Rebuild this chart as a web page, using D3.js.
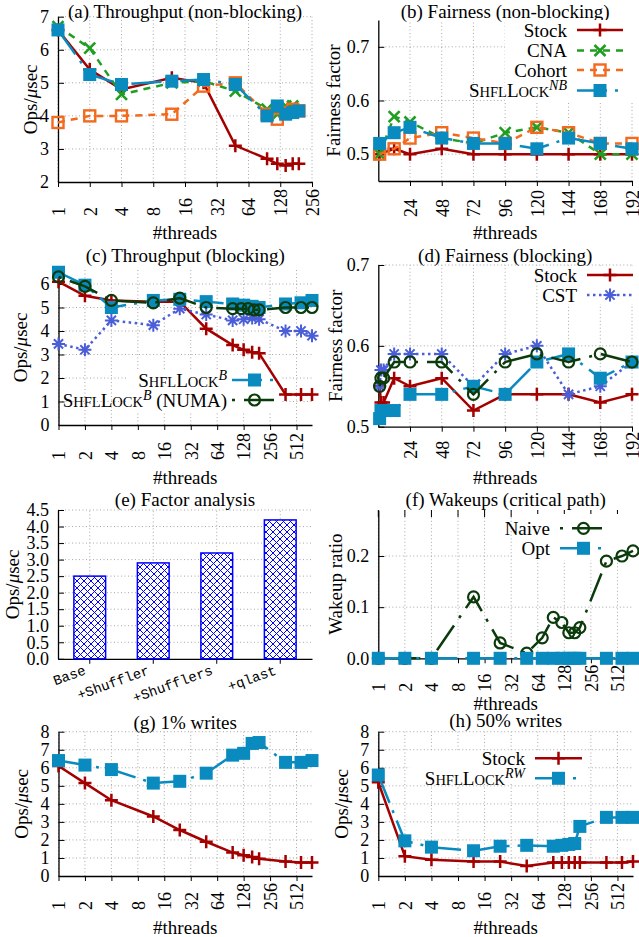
<!DOCTYPE html>
<html>
<head>
<meta charset="utf-8">
<script src="https://cdn.jsdelivr.net/npm/d3@7"></script>
<style>
  body { margin: 0; background: #fff; }
</style>
</head>
<body>
<script>
// ---- data ----

// (a) throughput, non-blocking
var thrA = [1, 2, 4, 12, 24, 48, 96, 120, 144, 168, 192];
var stockA = [6.6, 5.4, 4.8, 5.15, 5.0, 3.1, 2.7, 2.55, 2.5, 2.55, 2.55];
var cnaA = [6.7, 6.05, 4.65, 5.0, 5.05, 4.75, 4.2, 4.05, 4.3, 4.3, 4.15];
var cohortA = [3.8, 4.0, 4.0, 4.05, 4.9, 5.0, 4.05, 3.9, 4.1, 4.2, 4.15];
var shflA = [6.6, 5.25, 4.95, 5.05, 5.1, 4.95, 4.0, 4.3, 4.05, 4.1, 4.15];

// (b) fairness, non-blocking
var thrB = [1, 12, 24, 48, 72, 96, 120, 144, 168, 192];
var stockB = [0.50, 0.51, 0.50, 0.51, 0.50, 0.50, 0.50, 0.50, 0.50, 0.50];
var cnaB = [0.50, 0.57, 0.56, 0.53, 0.52, 0.54, 0.55, 0.54, 0.50, 0.50];
var cohortB = [0.50, 0.51, 0.53, 0.54, 0.53, 0.52, 0.55, 0.54, 0.52, 0.52];
var shflB = [0.52, 0.54, 0.55, 0.53, 0.52, 0.52, 0.51, 0.53, 0.52, 0.51];

// (c) throughput, blocking
var thrC = [1, 2, 4, 12, 24, 48, 96, 128, 160, 192, 384, 576, 768];
var stockC = [6.1, 5.5, 5.3, 5.25, 5.25, 4.1, 3.4, 3.2, 3.1, 3.05, 1.3, 1.3, 1.3];
var cstC = [3.45, 3.2, 4.45, 4.25, 4.95, 4.7, 4.45, 4.5, 4.55, 4.5, 4.0, 4.0, 3.8];
var shflC = [6.5, 5.95, 5.0, 5.3, 5.35, 5.25, 5.15, 5.1, 5.05, 5.0, 5.15, 5.2, 5.3];
var thrCn = [1, 2, 4, 12, 24, 48, 96, 120, 144, 168, 192, 384, 576, 768];
var numaC = [6.3, 5.9, 5.3, 5.2, 5.4, 5.0, 4.95, 4.95, 4.95, 4.9, 4.9, 5.0, 5.0, 5.0];

// (d) fairness, blocking
var thrD = [1, 2, 4, 12, 24, 48, 72, 96, 120, 144, 168, 192];
var stockD = [0.55, 0.53, 0.53, 0.56, 0.55, 0.56, 0.52, 0.54, 0.54, 0.54, 0.53, 0.54];
var cstD = [0.55, 0.57, 0.57, 0.59, 0.59, 0.59, 0.55, 0.59, 0.60, 0.54, 0.55, 0.58];
var shflD = [0.51, 0.52, 0.52, 0.52, 0.54, 0.54, 0.55, 0.54, 0.58, 0.59, 0.56, 0.58];
var numaD = [0.55, 0.56, 0.56, 0.58, 0.58, 0.58, 0.54, 0.58, 0.59, 0.58, 0.59, 0.58];

// (e) factor analysis
var factors = ["Base", "+Shuffler", "+Shufflers", "+qlast"];
var factorVals = [2.5, 2.9, 3.2, 4.2];

// (f) wakeups on the critical path
var thrF = [1, 2, 4, 12, 24, 48, 72, 96, 120, 144, 168, 192, 384, 576, 768];
var naiveF = [0, 0, 0, 0.12, 0.03, 0.01, 0.04, 0.08, 0.07, 0.05, 0.05, 0.06, 0.19, 0.20, 0.21];
var optF = [0, 0, 0, 0, 0, 0, 0, 0, 0, 0, 0, 0, 0, 0, 0];

// (g) 1% writes
var thrG = [1, 2, 4, 12, 24, 48, 96, 128, 160, 192, 384, 576, 768];
var stockG = [6.1, 5.15, 4.2, 3.3, 2.55, 1.9, 1.3, 1.15, 1.05, 0.95, 0.8, 0.75, 0.75];
var shflG = [6.4, 6.15, 5.9, 5.15, 5.25, 5.7, 6.7, 6.8, 7.35, 7.4, 6.3, 6.3, 6.4];

// (h) 50% writes
var thrH = [1, 2, 4, 12, 24, 48, 96, 120, 144, 168, 192, 384, 576, 768];
var stockH = [5.2, 1.1, 0.9, 0.8, 0.8, 0.55, 0.75, 0.75, 0.75, 0.75, 0.75, 0.75, 0.75, 0.8];
var shflH = [5.6, 1.95, 1.6, 1.4, 1.65, 1.7, 1.65, 1.7, 1.75, 1.8, 2.75, 3.25, 3.25, 3.25];

// tick values
var logTicks256 = [1, 2, 4, 8, 16, 32, 64, 128, 256];
var logTicks512 = [1, 2, 4, 8, 16, 32, 64, 128, 256, 512];
var linTicks = [24, 48, 72, 96, 120, 144, 168, 192];
var ticksA = [2, 3, 4, 5, 6, 7];
var ticksFair = [0.5, 0.6, 0.7];
var ticksC = [0, 1, 2, 3, 4, 5, 6];
var ticksE = [0, 0.5, 1, 1.5, 2, 2.5, 3, 3.5, 4, 4.5];
var ticksF = [0, 0.1, 0.2];
var ticksRW = [0, 1, 2, 3, 4, 5, 6, 7, 8];

// ---- drawing ----
var W = 639, H = 937;
var col = {
  stock: "#a40000", cna: "#1f9e1f", cohort: "#f3691d", shfl: "#0a8bbf",
  numa: "#0b3a0b", cst: "#4a5ed8", bar: "#0000ff", grid: "#a8a8a8"
};
var dashBlue = "30,8,3,8";
var dashGreen = "3,9,30,9";

var svg = d3.select("body").append("svg")
  .attr("width", W).attr("height", H)
  .style("font-family", "'Liberation Serif', 'Times New Roman', serif")
  .style("font-size", "19px");

var defs = svg.append("defs");
var pat = defs.append("pattern").attr("id", "xhatch")
  .attr("patternUnits", "userSpaceOnUse").attr("width", 7).attr("height", 7);
pat.append("rect").attr("width", 7).attr("height", 7).attr("fill", "#fff");
pat.append("path").attr("d", "M0,0L7,7M7,0L0,7M-1,6L1,8M6,-1L8,1M-1,1L1,-1M6,8L8,6")
  .attr("stroke", col.bar).attr("stroke-width", 1);

function opsLabel(t) {
  t.append("tspan").text("Ops/");
  t.append("tspan").attr("font-style", "italic").text("\u03bc");
  t.append("tspan").text("sec");
}

function shflLabel(t, sup, tail) {
  t.append("tspan").text("S");
  t.append("tspan").attr("font-size", 14.5).text("HFL");
  t.append("tspan").text("L");
  t.append("tspan").attr("font-size", 14.5).text("OCK");
  t.append("tspan").attr("font-size", 14).attr("font-style", "italic").attr("dy", -7).text(sup);
  if (tail) t.append("tspan").attr("dy", 7).text(tail);
}

function panel(o) {
  var g = svg.append("g");
  var x = o.x;
  var y = d3.scaleLinear().domain(o.yd).range([o.b, o.t]);
  var xp = o.band ? function (d) { return x(d) + x.bandwidth() / 2; } : function (d) { return x(d); };

  // dotted grid
  g.append("g").selectAll("line").data(o.xt).join("line")
    .attr("x1", xp).attr("x2", xp).attr("y1", o.b).attr("y2", o.t)
    .attr("stroke", col.grid).attr("stroke-dasharray", "1,2.5");
  g.append("g").selectAll("line").data(o.yt.filter(function (v) { return v > o.yd[0]; })).join("line")
    .attr("x1", o.l).attr("x2", o.r).attr("y1", y).attr("y2", y)
    .attr("stroke", col.grid).attr("stroke-dasharray", "1,2.5");

  // axes
  var ya = g.append("g").attr("transform", "translate(" + o.l + ",0)")
    .call(d3.axisLeft(y).tickValues(o.yt).tickSize(-6).tickSizeOuter(0).tickPadding(9).tickFormat(o.yf));
  ya.attr("font-family", null).attr("font-size", 18);
  ya.select(".domain").attr("stroke-width", 1.3);

  var xa = g.append("g").attr("transform", "translate(0," + o.b + ")")
    .call(d3.axisBottom(x).tickValues(o.xt).tickSize(5).tickSizeOuter(0)
      .tickFormat(o.band ? function () { return ""; } : d3.format("d")));
  xa.attr("font-family", null).attr("font-size", 18);
  xa.select(".domain").attr("stroke-width", 1.3);
  if (!o.band) {
    xa.selectAll(".tick text")
      .attr("x", 0).attr("y", 0).attr("dy", "0.35em")
      .attr("text-anchor", "start")
      .attr("transform", "translate(0," + o.lblOff + ") rotate(-90)");
    g.append("text").attr("x", (o.l + o.r) / 2).attr("y", o.xly).attr("dy", "0.35em")
      .attr("text-anchor", "middle").text("#threads");
  }

  // title
  g.append("text").attr("x", (o.l + o.r) / 2).attr("y", o.ty)
    .attr("text-anchor", "middle").text(o.title);

  // y label
  var yl = g.append("text")
    .attr("transform", "translate(" + o.ylx + "," + ((o.t + o.b) / 2) + ") rotate(-90)")
    .attr("text-anchor", "middle").attr("dy", "0.35em");
  if (o.ylab === "ops") opsLabel(yl); else yl.text(o.ylab);

  return { g: g, x: x, y: y, o: o, xp: xp };
}

function mark(g, type, cx, cy, c) {
  if (type === "plus") {
    g.append("path").attr("d", "M" + (cx - 6.5) + "," + cy + "h13M" + cx + "," + (cy - 6.5) + "v13")
      .attr("stroke", c).attr("stroke-width", 2.5).attr("fill", "none");
  } else if (type === "cross") {
    g.append("path").attr("d", "M" + (cx - 5.5) + "," + (cy - 5.5) + "l11,11M" + (cx - 5.5) + "," + (cy + 5.5) + "l11,-11")
      .attr("stroke", c).attr("stroke-width", 2.6).attr("fill", "none");
  } else if (type === "osquare") {
    g.append("rect").attr("x", cx - 5.5).attr("y", cy - 5.5).attr("width", 11).attr("height", 11)
      .attr("stroke", c).attr("stroke-width", 2.4).attr("fill", "none");
  } else if (type === "fsquare") {
    g.append("rect").attr("x", cx - 6.5).attr("y", cy - 6.5).attr("width", 13).attr("height", 13)
      .attr("fill", c);
  } else if (type === "circle") {
    g.append("circle").attr("cx", cx).attr("cy", cy).attr("r", 5.5)
      .attr("stroke", c).attr("stroke-width", 2.2).attr("fill", "none");
  } else if (type === "star") {
    g.append("path").attr("d", "M" + (cx - 6.5) + "," + cy + "h13M" + cx + "," + (cy - 6.5) + "v13M" +
      (cx - 4.6) + "," + (cy - 4.6) + "l9.2,9.2M" + (cx - 4.6) + "," + (cy + 4.6) + "l9.2,-9.2")
      .attr("stroke", c).attr("stroke-width", 2).attr("fill", "none");
  }
}

function series(p, xs, ys, c, dash, type) {
  var pts = d3.zip(xs, ys);
  var line = d3.line().x(function (d) { return p.x(d[0]); }).y(function (d) { return p.y(d[1]); });
  p.g.append("path").datum(pts).attr("d", line)
    .attr("fill", "none").attr("stroke", c).attr("stroke-width", 2.5)
    .attr("stroke-dasharray", dash);
  pts.forEach(function (d) { mark(p.g, type, p.x(d[0]), p.y(d[1]), c); });
}

function keyBox(p, x, y, w, h) {
  p.g.append("rect").attr("x", x).attr("y", y).attr("width", w).attr("height", h).attr("fill", "#fff");
}

function key(p, tx, sx0, sx1, rows) {
  rows.forEach(function (r) {
    var t = p.g.append("text").attr("x", tx).attr("y", r.y).attr("dy", "0.35em").attr("text-anchor", "end");
    if (r.sup) shflLabel(t, r.sup, r.tail); else t.text(r.label);
    p.g.append("line").attr("x1", sx0).attr("x2", sx1).attr("y1", r.y).attr("y2", r.y)
      .attr("stroke", r.c).attr("stroke-width", 2.5).attr("stroke-dasharray", r.dash);
    mark(p.g, r.m, (sx0 + sx1) / 2, r.y, r.c);
  });
}

// (a)
var pa = panel({
  x: d3.scaleLog().base(2).domain([1, 256]).range([58, 312]),
  l: 58, r: 312, t: 16.7, b: 182, yd: [2, 7], yt: ticksA, yf: d3.format("d"),
  xt: logTicks256, lblOff: 34, xly: 232, title: "(a) Throughput (non-blocking)", ty: 18,
  ylab: "ops", ylx: 30
});
series(pa, thrA, stockA, col.stock, null, "plus");
series(pa, thrA, cnaA, col.cna, "7,6", "cross");
series(pa, thrA, cohortA, col.cohort, "7,6", "osquare");
series(pa, thrA, shflA, col.shfl, dashBlue, "fsquare");

// (b)
var pb = panel({
  x: d3.scaleLinear().domain([0, 192]).range([378.3, 632]),
  l: 378.3, r: 632, t: 20, b: 181, yd: [0.45, 0.75], yt: ticksFair, yf: d3.format(".1f"),
  xt: linTicks, lblOff: 36, xly: 232, title: "(b) Fairness (non-blocking)", ty: 18,
  ylab: "Fairness factor", ylx: 333
});
keyBox(pb, 505, 20, 128, 82);
series(pb, thrB, stockB, col.stock, null, "plus");
series(pb, thrB, cnaB, col.cna, "7,6", "cross");
series(pb, thrB, cohortB, col.cohort, "7,6", "osquare");
series(pb, thrB, shflB, col.shfl, dashBlue, "fsquare");
key(pb, 567, 577, 623, [
  { label: "Stock", y: 30, c: col.stock, dash: null, m: "plus" },
  { label: "CNA", y: 50.5, c: col.cna, dash: "7,6", m: "cross" },
  { label: "Cohort", y: 70, c: col.cohort, dash: "7,6", m: "osquare" },
  { sup: "NB", y: 90.5, c: col.shfl, dash: dashBlue, m: "fsquare" }
]);

// (c)
var pc = panel({
  x: d3.scaleLog().base(2).domain([1, 768]).range([58.5, 312]),
  l: 58.5, r: 312, t: 269.9, b: 425, yd: [0, 6.6], yt: ticksC, yf: d3.format("d"),
  xt: logTicks512, lblOff: 35, xly: 477, title: "(c) Throughput (blocking)", ty: 262,
  ylab: "ops", ylx: 20
});
keyBox(pc, 127, 369, 155, 42);
series(pc, thrC, stockC, col.stock, null, "plus");
series(pc, thrC, cstC, col.cst, "2.5,3.5", "star");
series(pc, thrC, shflC, col.shfl, dashBlue, "fsquare");
series(pc, thrCn, numaC, col.numa, dashGreen, "circle");
key(pc, 227, 232, 277, [
  { sup: "B", y: 380, c: col.shfl, dash: dashBlue, m: "fsquare" },
  { sup: "B", tail: " (NUMA)", y: 400, c: col.numa, dash: dashGreen, m: "circle" }
]);

// (d)
var pd = panel({
  x: d3.scaleLinear().domain([0, 192]).range([378.3, 632]),
  l: 378.3, r: 632, t: 265, b: 426.7, yd: [0.5, 0.7], yt: ticksFair, yf: d3.format(".1f"),
  xt: linTicks, lblOff: 32, xly: 477, title: "(d) Fairness (blocking)", ty: 262,
  ylab: "Fairness factor", ylx: 335
});
keyBox(pd, 538, 266, 95, 38);
series(pd, thrD, stockD, col.stock, null, "plus");
series(pd, thrD, cstD, col.cst, "2.5,3.5", "star");
series(pd, thrD, shflD, col.shfl, dashBlue, "fsquare");
series(pd, thrD, numaD, col.numa, dashGreen, "circle");
key(pd, 577, 587, 633, [
  { label: "Stock", y: 275, c: col.stock, dash: null, m: "plus" },
  { label: "CST", y: 295, c: col.cst, dash: "2.5,3.5", m: "star" }
]);

// (e)
var pe = panel({
  x: d3.scaleBand().domain(factors).range([58, 312]).paddingInner(0.5).paddingOuter(0.25),
  band: true, l: 58, r: 312, t: 510, b: 658.8, yd: [0, 4.5], yt: ticksE, yf: d3.format(".1f"),
  xt: factors, title: "(e) Factor analysis", ty: 506, ylab: "ops", ylx: 12
});
pe.g.selectAll(".bar").data(d3.zip(factors, factorVals)).join("rect")
  .attr("x", function (d) { return pe.x(d[0]); })
  .attr("width", pe.x.bandwidth())
  .attr("y", function (d) { return pe.y(d[1]); })
  .attr("height", function (d) { return pe.y(0) - pe.y(d[1]); })
  .attr("fill", "url(#xhatch)").attr("stroke", col.bar).attr("stroke-width", 1.5);
pe.g.selectAll(".cat").data(factors).join("text")
  .attr("transform", function (d) { return "translate(" + (pe.xp(d) - 3) + ",674) rotate(-20)"; })
  .attr("text-anchor", "end")
  .style("font-family", "'Liberation Mono', 'DejaVu Sans Mono', monospace")
  .style("font-size", "14px")
  .text(function (d) { return d; });

// (f)
var pf = panel({
  x: d3.scaleLog().base(2).domain([1, 768]).range([378.3, 633]),
  l: 378.3, r: 633, t: 510, b: 658.3, yd: [0, 0.29], yt: ticksF, yf: d3.format(".1f"),
  xt: logTicks512, lblOff: 33.5, xly: 703, title: "(f) Wakeups (critical path)", ty: 506,
  ylab: "Wakeup ratio", ylx: 335
});
pf.g.append("g").selectAll("line").data(logTicks512).join("line")
  .attr("x1", pf.xp).attr("x2", pf.xp).attr("y1", 510).attr("y2", 517)
  .attr("stroke", "#000").attr("stroke-width", 1);
keyBox(pf, 512, 514, 121, 46);
series(pf, thrF, naiveF, col.numa, dashGreen, "circle");
series(pf, thrF, optF, col.shfl, dashBlue, "fsquare");
key(pf, 550, 560, 607, [
  { label: "Naive", y: 528.3, c: col.numa, dash: dashGreen, m: "circle" },
  { label: "Opt", y: 548.3, c: col.shfl, dash: dashBlue, m: "fsquare" }
]);

// (g)
var pg = panel({
  x: d3.scaleLog().base(2).domain([1, 768]).range([58.5, 312]),
  l: 58.5, r: 312, t: 731.7, b: 876, yd: [0, 8], yt: ticksRW, yf: d3.format("d"),
  xt: logTicks512, lblOff: 34, xly: 927, title: "(g) 1% writes", ty: 729,
  ylab: "ops", ylx: 21.7
});
series(pg, thrG, stockG, col.stock, null, "plus");
series(pg, thrG, shflG, col.shfl, dashBlue, "fsquare");

// (h)
var ph = panel({
  x: d3.scaleLog().base(2).domain([1, 768]).range([378.3, 633]),
  l: 378.3, r: 633, t: 731.7, b: 876, yd: [0, 8], yt: ticksRW, yf: d3.format("d"),
  xt: logTicks512, lblOff: 34, xly: 927, title: "(h) 50% writes", ty: 727,
  ylab: "ops", ylx: 341.7
});
keyBox(ph, 410, 752, 176, 32);
series(ph, thrH, stockH, col.stock, null, "plus");
series(ph, thrH, shflH, col.shfl, dashBlue, "fsquare");
key(ph, 525, 535, 582, [
  { label: "Stock", y: 758.3, c: col.stock, dash: null, m: "plus" },
  { sup: "RW", y: 778.3, c: col.shfl, dash: dashBlue, m: "fsquare" }
]);
</script>
</body>
</html>
